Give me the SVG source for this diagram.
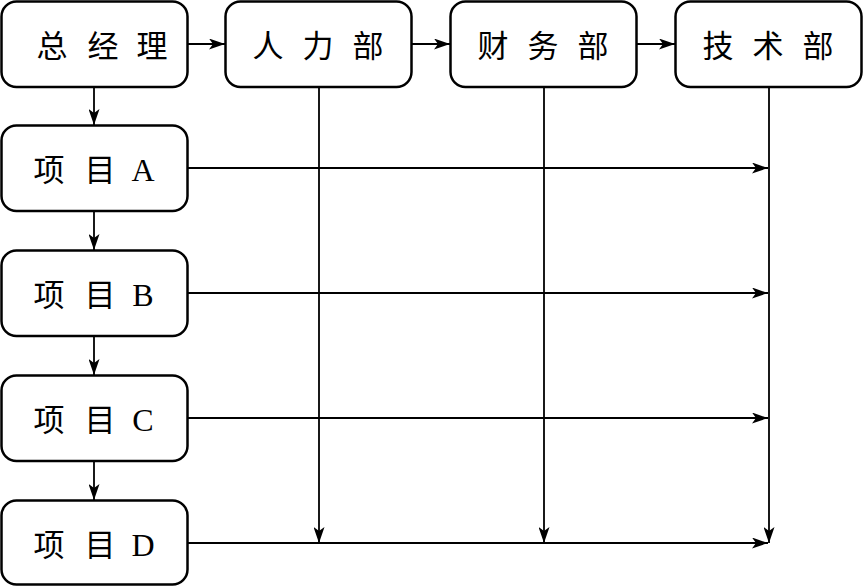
<svg xmlns="http://www.w3.org/2000/svg" width="863" height="586" viewBox="0 0 863 586">
<style>
.box{fill:#fff;stroke:#000;stroke-width:2.5}
.cn{font-family:"Noto Sans CJK SC","Liberation Serif",serif;font-size:31px;fill:#000;text-anchor:middle}
.lt{font-family:"Liberation Serif",serif;font-size:32px;fill:#000;text-anchor:middle}
.ln{stroke:#000;stroke-width:1.8;fill:none}
</style>
<defs>
<marker id="ah" viewBox="0 0 16 11" refX="16" refY="5.5" markerWidth="16" markerHeight="11" markerUnits="userSpaceOnUse" orient="auto">
<path d="M0,0 L16,5.5 L0,11 L4,5.5 Z" fill="#000"/>
</marker>
</defs>
<g id="connectors">
<line class="ln" x1="188" y1="44" x2="225" y2="44" marker-end="url(#ah)"/>
<line class="ln" x1="412" y1="44" x2="450" y2="44" marker-end="url(#ah)"/>
<line class="ln" x1="637" y1="44" x2="675" y2="44" marker-end="url(#ah)"/>
<line class="ln" x1="94" y1="87" x2="94" y2="125" marker-end="url(#ah)"/>
<line class="ln" x1="94" y1="211" x2="94" y2="250" marker-end="url(#ah)"/>
<line class="ln" x1="94" y1="336" x2="94" y2="375" marker-end="url(#ah)"/>
<line class="ln" x1="94" y1="461" x2="94" y2="500" marker-end="url(#ah)"/>
<line class="ln" x1="319" y1="87" x2="319" y2="543" marker-end="url(#ah)"/>
<line class="ln" x1="544" y1="87" x2="544" y2="543" marker-end="url(#ah)"/>
<line class="ln" x1="769" y1="87" x2="769" y2="543" marker-end="url(#ah)"/>
<line class="ln" x1="188" y1="168" x2="768" y2="168" marker-end="url(#ah)"/>
<line class="ln" x1="188" y1="293" x2="768" y2="293" marker-end="url(#ah)"/>
<line class="ln" x1="188" y1="418" x2="768" y2="418" marker-end="url(#ah)"/>
<line class="ln" x1="188" y1="543" x2="768" y2="543" marker-end="url(#ah)"/>
</g>
<g id="zongjingli">
<rect class="box" x="1.5" y="1.5" width="186" height="85.5" rx="15"/>
<text class="cn" x="52 103 152" y="57">总经理</text>
</g>
<g id="renlibu">
<rect class="box" x="225.5" y="1.5" width="186" height="85.5" rx="15"/>
<text class="cn" x="268 318 368" y="57">人力部</text>
</g>
<g id="caiwubu">
<rect class="box" x="450.5" y="1.5" width="186" height="85.5" rx="15"/>
<text class="cn" x="493 543 593" y="57">财务部</text>
</g>
<g id="jishubu">
<rect class="box" x="675.5" y="1.5" width="186" height="85.5" rx="15"/>
<text class="cn" x="718 768 818" y="57">技术部</text>
</g>
<g id="projA">
<rect class="box" x="1.5" y="125.5" width="186" height="85.5" rx="15"/>
<text class="cn" x="49 100" y="181">项目</text><text class="lt" x="143" y="181">A</text>
</g>
<g id="projB">
<rect class="box" x="1.5" y="250.5" width="186" height="85.5" rx="15"/>
<text class="cn" x="49 100" y="306">项目</text><text class="lt" x="143" y="306">B</text>
</g>
<g id="projC">
<rect class="box" x="1.5" y="375.5" width="186" height="85.5" rx="15"/>
<text class="cn" x="49 100" y="431">项目</text><text class="lt" x="143" y="431">C</text>
</g>
<g id="projD">
<rect class="box" x="1.5" y="500.5" width="186" height="84" rx="15"/>
<text class="cn" x="49 100" y="556">项目</text><text class="lt" x="143" y="556">D</text>
</g>
</svg>
